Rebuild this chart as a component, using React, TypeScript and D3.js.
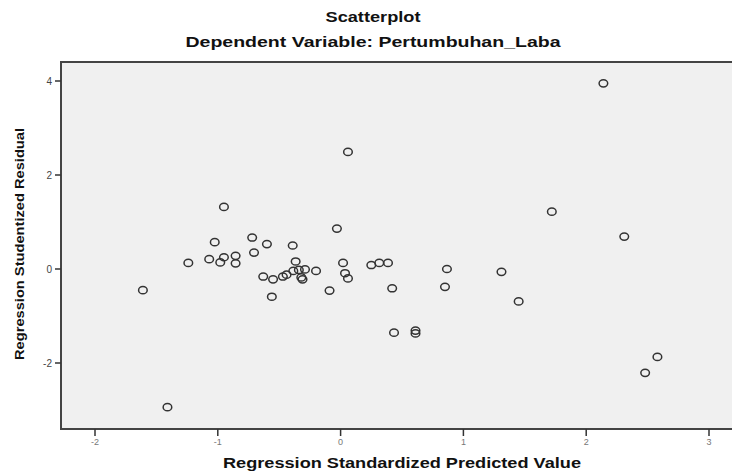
import React from "react";
import * as d3 from "d3";

const predicted = [
  2.14, 0.06, -0.95, 1.72, 2.31, -0.03, -1.025, -0.72, -0.6, -0.39,
  -0.705, -1.24, -1.07, -0.98, -0.95, -0.855, -0.855, -0.366, 0.02, -0.63,
  -0.55, -0.47, -0.44, -0.385, -0.34, -0.29, -0.32, -0.31, -0.2, -0.56,
  -0.09, 0.036, 0.06, 0.25, 0.315, 0.386, 0.42, 0.866, 0.85, 1.31,
  1.45, 0.435, 0.61, 0.61, -1.61, -1.41, 2.58, 2.48,
];
const residual = [
  3.95, 2.49, 1.32, 1.22, 0.69, 0.86, 0.57, 0.67, 0.53, 0.5,
  0.35, 0.13, 0.21, 0.14, 0.25, 0.28, 0.12, 0.16, 0.13, -0.16,
  -0.22, -0.16, -0.12, -0.04, -0.02, -0.01, -0.18, -0.22, -0.04, -0.59,
  -0.46, -0.09, -0.2, 0.085, 0.13, 0.13, -0.41, 0.0, -0.38, -0.06,
  -0.69, -1.355, -1.31, -1.37, -0.45, -2.94, -1.87, -2.21,
];
const xTicks = [-2, -1, 0, 1, 2, 3];
const yTicks = [-2, 0, 2, 4];
const title1 = "Scatterplot";
const title2 = "Dependent Variable: Pertumbuhan_Laba";
const xTitle = "Regression Standardized Predicted Value";
const yTitle = "Regression Studentized Residual";

export default function App() {
  const W = 732;
  const H = 475;
  const left = 61, right = 734, top = 62, bottom = 429;
  const x = d3.scaleLinear().domain([-2, 3]).range([95, 709]);
  const y = d3.scaleLinear().domain([-2, 4]).range([363, 81]);
  const font = "'Liberation Sans', Arial, sans-serif";
  const points = predicted.map((p, i) => ({ px: p, py: residual[i] }));
  return (
    <svg
      width={W}
      height={H}
      style={{ position: "absolute", left: 0, top: 0, background: "#ffffff" }}
    >
      <rect x={0} y={0} width={W} height={H} fill="#ffffff" />
      <text x={373} y={22} textAnchor="middle" fontFamily={font} fontWeight="bold" fontSize={14} fill="#111" textLength={95} lengthAdjust="spacingAndGlyphs">
        {title1}
      </text>
      <text x={373} y={47} textAnchor="middle" fontFamily={font} fontWeight="bold" fontSize={14} fill="#111" textLength={375} lengthAdjust="spacingAndGlyphs">
        {title2}
      </text>
      <rect x={left} y={top} width={right - left} height={bottom - top} fill="#f0f0f0" stroke="#444" strokeWidth={2} />
      {xTicks.map((t) => (
        <g key={"xt" + t}>
          <line x1={x(t)} x2={x(t)} y1={bottom} y2={bottom + 7} stroke="#333" strokeWidth={1.5} />
          <text x={x(t)} y={445} textAnchor="middle" fontFamily={font} fontSize={9} fill="#777">
            {t}
          </text>
        </g>
      ))}
      {yTicks.map((t) => (
        <g key={"yt" + t}>
          <line x1={left - 6} x2={left} y1={y(t)} y2={y(t)} stroke="#333" strokeWidth={1.5} />
          <text x={52} y={y(t) + 4} textAnchor="end" fontFamily={font} fontSize={10} fill="#444">
            {t}
          </text>
        </g>
      ))}
      {points.map((d, i) => (
        <ellipse key={i} cx={x(d.px)} cy={y(d.py)} rx={4.3} ry={3.6} fill="none" stroke="#333" strokeWidth={1.5} />
      ))}
      <text x={402} y={468} textAnchor="middle" fontFamily={font} fontWeight="bold" fontSize={14} fill="#111" textLength={358} lengthAdjust="spacingAndGlyphs">
        {xTitle}
      </text>
      <text transform={`translate(24,244) rotate(-90)`} textAnchor="middle" fontFamily={font} fontWeight="bold" fontSize={12} fill="#111" textLength={232} lengthAdjust="spacingAndGlyphs">
        {yTitle}
      </text>
    </svg>
  );
}
